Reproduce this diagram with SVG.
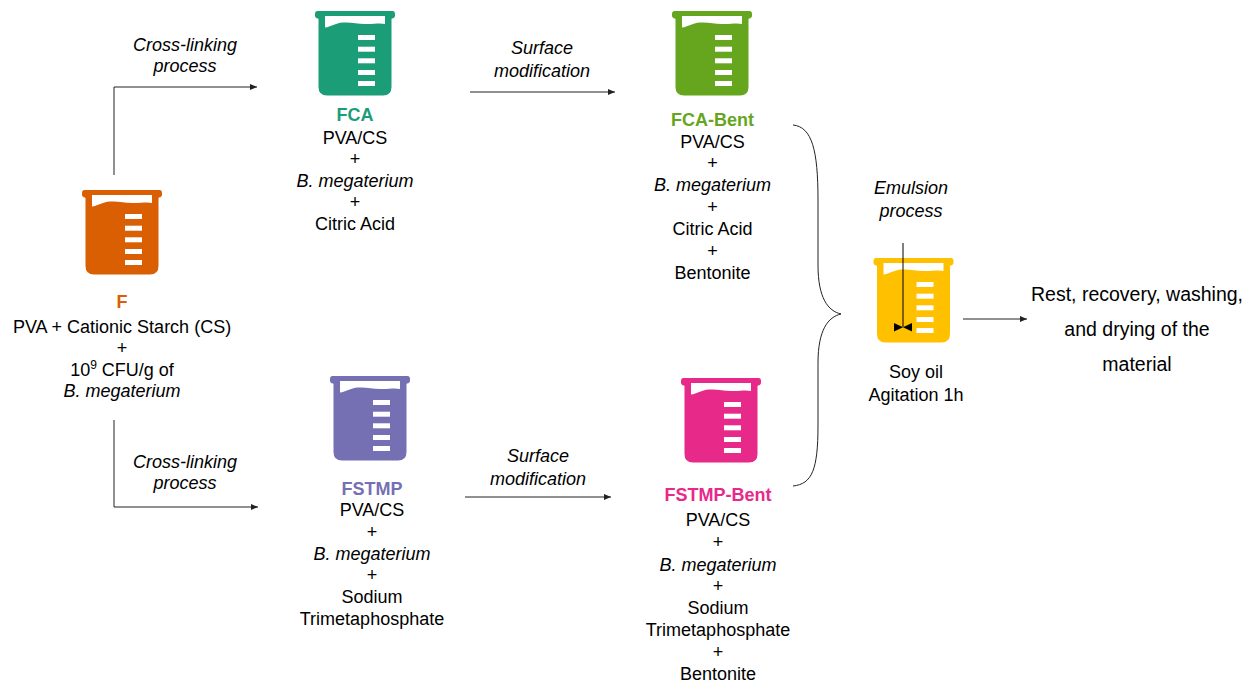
<svg xmlns="http://www.w3.org/2000/svg" xmlns:xlink="http://www.w3.org/1999/xlink" width="1253" height="684" viewBox="0 0 1253 684">
<style>
text{font-family:"Liberation Sans",Arial,sans-serif;font-size:18px;fill:#000;text-anchor:middle}
.it{font-style:italic}
.tt{font-weight:bold}
.big{font-size:19.5px}
.ln{fill:none;stroke:#222;stroke-width:1}
</style>
<defs>
<marker id="ah" markerUnits="userSpaceOnUse" markerWidth="8" markerHeight="6" refX="7" refY="3" orient="auto">
<path d="M0,0 L7,3 L0,6 Z" fill="#222"/>
</marker>
<symbol id="beaker" viewBox="0 0 80 85" width="80" height="85" overflow="visible">
<path d="M2.5,0 H77.5 Q80,0 80,3 V4.5 Q80,7 77,7.5 L76.5,8 V76 Q76.5,84.5 68,84.5 H12 Q3.5,84.5 3.5,76 V8 L3,7.5 Q0,7 0,4.5 V3 Q0,0 2.5,0 Z"/>
<path d="M10,5 H70 V13 C64,11.5 58,13.5 50,13 C42,12.5 36,11 28,11.5 C20,12 16,16 10,16.5 Z" fill="#fff"/>
<g fill="#fff">
<rect x="43" y="24" width="17" height="5"/>
<rect x="43" y="35.7" width="17" height="5"/>
<rect x="43" y="47.3" width="17" height="5"/>
<rect x="43" y="59" width="17" height="5"/>
<rect x="43" y="70" width="17" height="5"/>
</g>
</symbol>
</defs>
<rect width="1253" height="684" fill="#fff"/>

<g id="connectors">
<polyline class="ln" points="114,175 114,87 257,87" marker-end="url(#ah)"/>
<polyline class="ln" points="114,420 114,507 258,507" marker-end="url(#ah)"/>
<line class="ln" x1="470" y1="92" x2="615" y2="92" marker-end="url(#ah)"/>
<line class="ln" x1="465" y1="497" x2="611" y2="497" marker-end="url(#ah)"/>
<line class="ln" x1="963" y1="319" x2="1027" y2="319" marker-end="url(#ah)"/>
<path class="ln" d="M793,125 C812,127 818,150 818,200 L818,265 C818,298 828,311 841,314 C828,317 818,330 818,363 L818,425 C818,470 812,484 793,486"/>
<text class="it" x="185" y="51">Cross-linking</text>
<text class="it" x="185" y="72">process</text>
<text class="it" x="185" y="468">Cross-linking</text>
<text class="it" x="185" y="489">process</text>
<text class="it" x="542" y="54">Surface</text>
<text class="it" x="542" y="77">modification</text>
<text class="it" x="538" y="462">Surface</text>
<text class="it" x="538" y="485">modification</text>
<text class="it" x="911" y="194">Emulsion</text>
<text class="it" x="911" y="217">process</text>
</g>

<g id="node-F">
<use xlink:href="#beaker" x="82" y="190" fill="#d95f02"/>
<text class="tt" x="122" y="308" style="fill:#d95f02">F</text>
<text x="122" y="333">PVA + Cationic Starch (CS)</text>
<text x="122" y="354">+</text>
<text x="122" y="376">10<tspan font-size="12" dy="-7">9</tspan><tspan dy="7"> CFU/g of</tspan></text>
<text class="it" x="122" y="397">B. megaterium</text>
</g>

<g id="node-FCA">
<use xlink:href="#beaker" x="315" y="11" fill="#1b9e77"/>
<text class="tt" x="355" y="121" style="fill:#1b9e77">FCA</text>
<text x="355" y="143.5">PVA/CS</text>
<text x="355" y="165">+</text>
<text class="it" x="355" y="187">B. megaterium</text>
<text x="355" y="208">+</text>
<text x="355" y="230">Citric Acid</text>
</g>

<g id="node-FCA-Bent">
<use xlink:href="#beaker" x="672" y="11" fill="#66a61e"/>
<text class="tt" x="712.5" y="126" style="fill:#66a61e">FCA-Bent</text>
<text x="712.5" y="147.5">PVA/CS</text>
<text x="712.5" y="169">+</text>
<text class="it" x="712.5" y="191">B. megaterium</text>
<text x="712.5" y="213">+</text>
<text x="712.5" y="235">Citric Acid</text>
<text x="712.5" y="257">+</text>
<text x="712.5" y="278.5">Bentonite</text>
</g>

<g id="node-FSTMP">
<use xlink:href="#beaker" x="330" y="376" fill="#7570b3"/>
<text class="tt" x="372" y="495" style="fill:#7570b3">FSTMP</text>
<text x="372" y="516">PVA/CS</text>
<text x="372" y="538">+</text>
<text class="it" x="372" y="560">B. megaterium</text>
<text x="372" y="581">+</text>
<text x="372" y="603">Sodium</text>
<text x="372" y="625">Trimetaphosphate</text>
</g>

<g id="node-FSTMP-Bent">
<use xlink:href="#beaker" x="681" y="378" fill="#e7298a"/>
<text class="tt" x="718" y="501" style="fill:#e7298a">FSTMP-Bent</text>
<text x="718" y="526">PVA/CS</text>
<text x="718" y="548">+</text>
<text class="it" x="718" y="570.5">B. megaterium</text>
<text x="718" y="592">+</text>
<text x="718" y="614">Sodium</text>
<text x="718" y="636">Trimetaphosphate</text>
<text x="718" y="658">+</text>
<text x="718" y="679.5">Bentonite</text>
</g>

<g id="node-emulsion">
<use xlink:href="#beaker" x="873.5" y="258" fill="#ffc000"/>
<line x1="903" y1="243" x2="903" y2="327" stroke="#000" stroke-width="1"/>
<path d="M894,323 L903,327.3 L894,331.5 Z M912,323 L903,327.3 L912,331.5 Z" fill="#000"/>
<text x="916" y="377.5">Soy oil</text>
<text x="916" y="400.5">Agitation 1h</text>
</g>

<g id="node-final">
<text class="big" x="1137" y="301">Rest, recovery, washing,</text>
<text class="big" x="1137" y="336">and drying of the</text>
<text class="big" x="1137" y="371">material</text>
</g>
</svg>
